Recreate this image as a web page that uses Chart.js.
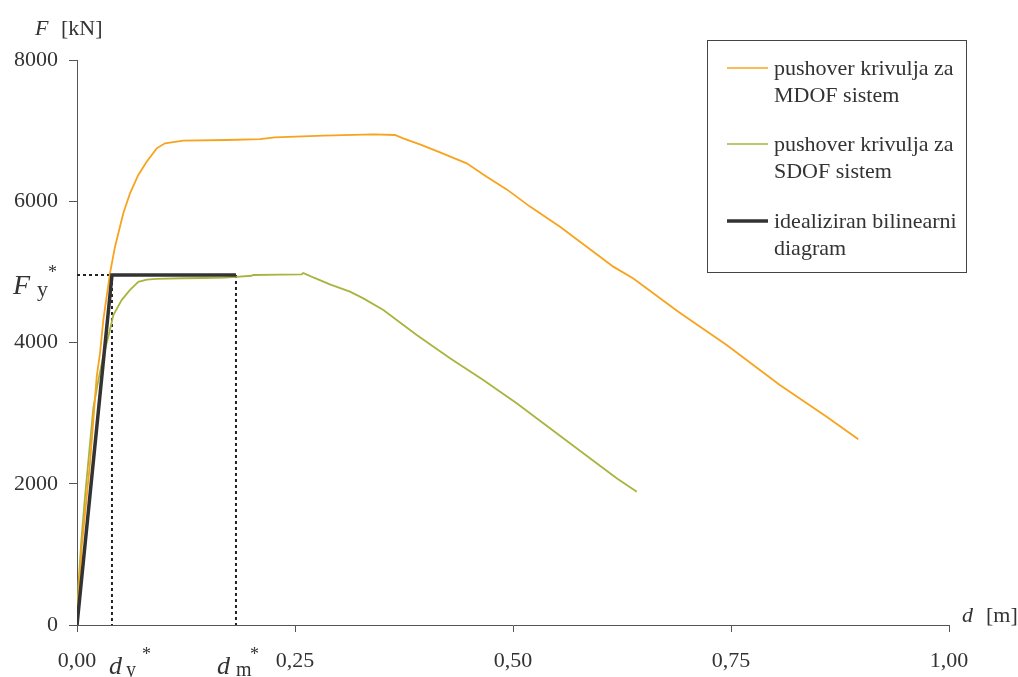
<!DOCTYPE html>
<html>
<head>
<meta charset="utf-8">
<script src="https://cdn.jsdelivr.net/npm/chart.js@4.4.1/dist/chart.umd.min.js"></script>
<style>
html,body{margin:0;padding:0;background:#fff;}
#wrap{width:1018px;height:677px;position:relative;}
</style>
</head>
<body>
<div id="wrap"><canvas id="c" width="1018" height="677"></canvas></div>
<script>
// ---- data ----
const mdofD = [0,0.001,0.0054,0.0149,0.0226,0.0264,0.0302,0.0378,0.0436,0.0531,0.0608,0.0703,0.0799,0.0914,0.1009,0.122,0.1717,0.21,0.227,0.2825,0.3398,0.3647,0.374,0.3933,0.4163,0.4469,0.4698,0.4928,0.5195,0.5539,0.5845,0.615,0.638,0.6896,0.745,0.806,0.8597,0.896];
const mdofF = [0,260,1110,2290,3516,3851,4319,4980,5357,5829,6113,6372,6560,6749,6820,6857,6867,6881,6905,6928,6947,6938,6891,6806,6693,6537,6348,6168,5924,5640,5357,5074,4906,4435,3965,3398,2950,2629];

const sdofD = [0,0.0015,0.005,0.0092,0.014,0.0187,0.025,0.03,0.034,0.0378,0.0417,0.0512,0.0608,0.0703,0.08,0.0914,0.12,0.145,0.17,0.1823,0.2,0.2022,0.235,0.2577,0.2595,0.263,0.271,0.29,0.313,0.3284,0.3513,0.3896,0.4278,0.4659,0.5042,0.5424,0.5806,0.6189,0.642];
const sdofF = [0,540,1200,1820,2450,3070,3500,3800,3990,4180,4390,4600,4745,4860,4890,4900,4910,4913,4920,4930,4945,4956,4960,4966,4985,4965,4921,4824,4720,4625,4460,4106,3776,3469,3139,2785,2431,2077,1888];

const Fy = 4956;   // kN
const dy = 0.0401; // m
const dm = 0.1823; // m

const yTicks = [0,2000,4000,6000,8000];
const xTicks = [0,0.25,0.5,0.75,1.0];

const legendLabels = [
  ["pushover krivulja za","MDOF sistem"],
  ["pushover krivulja za","SDOF sistem"],
  ["idealiziran bilinearni","diagram"]
];

const COL_MDOF = '#F8A31E';
const COL_SDOF = '#A9B43F';
const COL_BIL  = '#333333';
const TXT = '#333333';
const FONT = "'Liberation Serif', 'DejaVu Serif', serif";

const toPts = (xs, ys) => xs.map((x,i)=>({x:x, y:ys[i]}));

const annot = {
  id:'annot',
  afterDraw(chart){
    const ctx = chart.ctx;
    const xs = chart.scales.x, ys = chart.scales.y;
    ctx.save();
    ctx.fillStyle = TXT;
    ctx.textBaseline = 'alphabetic';
    // axis titles
    ctx.font = "italic 22px " + FONT;
    ctx.textAlign = 'left';
    ctx.fillText('F', 35, 35);
    ctx.font = "22px " + FONT;
    ctx.fillText('[kN]', 61, 35);
    ctx.font = "italic 22px " + FONT;
    ctx.fillText('d', 962, 622);
    ctx.font = "22px " + FONT;
    ctx.fillText('[m]', 986, 622);

    // F_y*
    const yFy = ys.getPixelForValue(Fy);
    ctx.font = "italic 28px " + FONT;
    ctx.fillText('F', 13, yFy + 19);
    ctx.font = "22px " + FONT;
    ctx.fillText('y', 37, yFy + 21);
    ctx.font = "18px " + FONT;
    ctx.fillText('*', 48, yFy + 3);

    // d_y* and d_m*
    const base = 674;
    const xdy = xs.getPixelForValue(dy);
    ctx.font = "italic 26px " + FONT;
    ctx.fillText('d', xdy - 3, base);
    ctx.font = "20px " + FONT;
    ctx.fillText('y', xdy + 14, base + 2);
    ctx.font = "18px " + FONT;
    ctx.fillText('*', xdy + 30, base - 14);

    const xdm = xs.getPixelForValue(dm);
    ctx.font = "italic 26px " + FONT;
    ctx.fillText('d', xdm - 19, base);
    ctx.font = "20px " + FONT;
    ctx.fillText('m', xdm + 0, base + 2);
    ctx.font = "18px " + FONT;
    ctx.fillText('*', xdm + 14, base - 14);

    // legend
    ctx.strokeStyle = '#444';
    ctx.lineWidth = 1;
    ctx.strokeRect(707.5, 40.5, 259, 232);
    const cols = [COL_MDOF, COL_SDOF, COL_BIL];
    const widths = [1.5, 1.5, 3.5];
    const rowY = [68, 144, 221];
    ctx.font = "22px " + FONT;
    for (let i=0;i<3;i++){
      ctx.beginPath();
      ctx.strokeStyle = cols[i];
      ctx.lineWidth = widths[i];
      ctx.moveTo(727, rowY[i]);
      ctx.lineTo(768, rowY[i]);
      ctx.stroke();
      ctx.fillStyle = TXT;
      ctx.fillText(legendLabels[i][0], 774, rowY[i] + 7);
      ctx.fillText(legendLabels[i][1], 774, rowY[i] + 34);
    }
    ctx.restore();
  }
};

new Chart(document.getElementById('c'), {
  type: 'scatter',
  data: {
    datasets: [
      { label:'bilinear', data:[{x:0,y:0},{x:dy,y:Fy},{x:dm,y:Fy}], showLine:true, borderColor:COL_BIL, borderWidth:3.5, pointRadius:0, order:1, tension:0 },
      { label:'dotted1', data:[{x:0,y:Fy},{x:dy,y:Fy},{x:dy,y:0}], showLine:true, borderColor:'#222', borderWidth:2, borderDash:[3,3], pointRadius:0, order:4, tension:0 },
      { label:'dotted2', data:[{x:dm,y:Fy},{x:dm,y:0}], showLine:true, borderColor:'#222', borderWidth:2, borderDash:[3,3], pointRadius:0, order:4, tension:0 },
      { label:'MDOF', data:toPts(mdofD, mdofF), showLine:true, borderColor:COL_MDOF, borderWidth:1.8, pointRadius:0, order:2, tension:0 },
      { label:'SDOF', data:toPts(sdofD, sdofF), showLine:true, borderColor:COL_SDOF, borderWidth:1.8, pointRadius:0, order:3, tension:0 }
    ]
  },
  options: {
    responsive:false,
    animation:false,
    devicePixelRatio:1,
    layout:{ padding:{ top:60, right:69, left:0, bottom:0 } },
    plugins:{ legend:{display:false}, tooltip:{enabled:false} },
    scales:{
      x:{
        type:'linear', min:0, max:1,
        afterBuildTicks(s){ s.ticks = xTicks.map(v=>({value:v})); },
        afterFit(s){ s.height = 52; },
        grid:{ drawOnChartArea:false, drawTicks:true, tickLength:7, color:'#555', lineWidth:1 },
        border:{ display:true, color:'#555', width:1 },
        ticks:{ autoSkip:false, maxRotation:0, padding:16, color:TXT, font:{family:FONT, size:22},
          callback:(v)=> Number(v).toFixed(2).replace('.',',') }
      },
      y:{
        type:'linear', min:0, max:8000,
        afterBuildTicks(s){ s.ticks = yTicks.map(v=>({value:v})); },
        afterFit(s){ s.width = 77; },
        grid:{ drawOnChartArea:false, drawTicks:true, tickLength:8, color:'#555', lineWidth:1 },
        border:{ display:true, color:'#555', width:1 },
        ticks:{ padding:11, color:TXT, font:{family:FONT, size:22}, callback:(v)=> String(v) }
      }
    }
  },
  plugins:[annot]
});
</script>
</body>
</html>
